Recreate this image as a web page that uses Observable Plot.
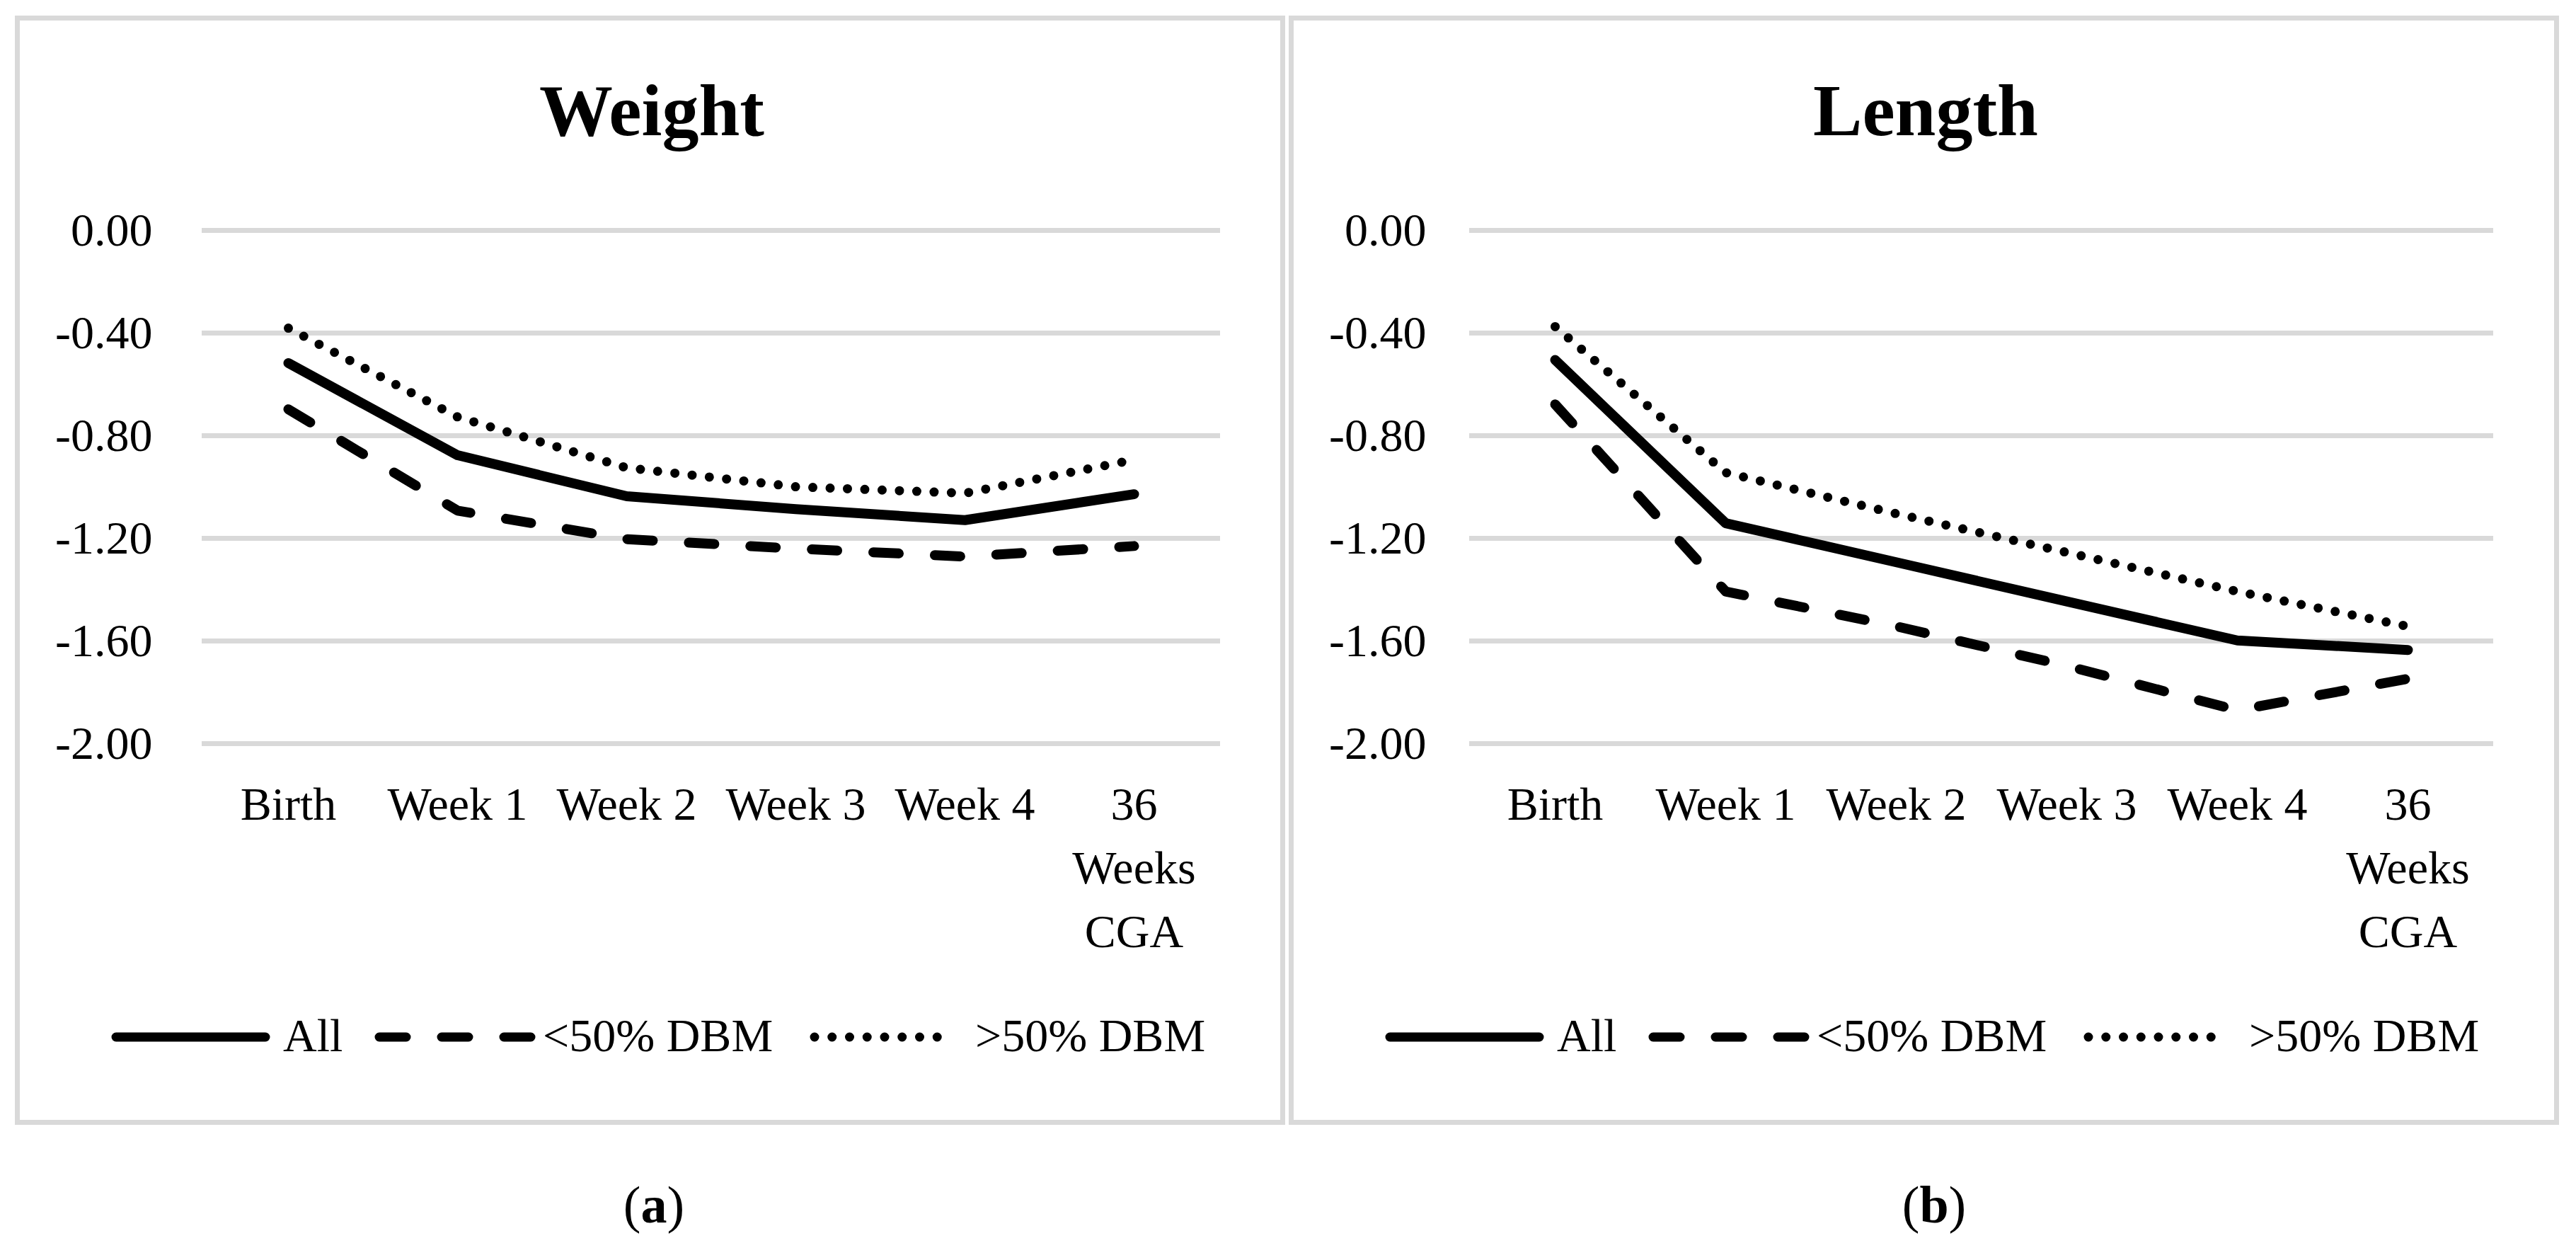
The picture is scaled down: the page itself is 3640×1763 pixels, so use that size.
<!DOCTYPE html>
<html>
<head>
<meta charset="utf-8">
<script src="https://cdn.jsdelivr.net/npm/d3@7"></script>
<script src="https://cdn.jsdelivr.net/npm/@observablehq/plot@0.6"></script>
<style>
  html, body { margin: 0; padding: 0; background: #fff; }
  body { width: 3640px; height: 1763px; position: relative; overflow: hidden; font-family: "Liberation Serif", serif; }
  .panel { position: absolute; top: 22px; width: 1795px; height: 1567px; box-sizing: border-box; border: 7px solid #d9d9d9; }
  .plotwrap { position: absolute; top: 0; }
  #overlay { position: absolute; left: 0; top: 0; }
</style>
</head>
<body>
<div class="panel" style="left:21px"></div>
<div class="panel" style="left:1821px"></div>
<div class="plotwrap" id="pa" style="left:21px"></div>
<div class="plotwrap" id="pb" style="left:1821px"></div>
<svg id="overlay" width="3640" height="1763"></svg>
<script>
// ---- data ----
const categories = ["Birth", "Week 1", "Week 2", "Week 3", "Week 4", "36 Weeks CGA"];
const tickLabels = ["Birth", "Week 1", "Week 2", "Week 3", "Week 4", "36\nWeeks\nCGA"];
const yTicks = [0, -0.4, -0.8, -1.2, -1.6, -2.0];
const seriesNames = ["All", "<50% DBM", ">50% DBM"];

const weightAll   = [-0.517, -0.876, -1.036, -1.086, -1.129, -1.028];
const weightLow   = [-0.697, -1.092, -1.203, -1.240, -1.271, -1.230];
const weightHigh  = [-0.381, -0.727, -0.925, -0.999, -1.024, -0.894];

const lengthAll   = [-0.505, -1.141, -1.293, -1.446, -1.598, -1.635];
const lengthLow   = [-0.678, -1.407, -1.543, -1.697, -1.870, -1.747];
const lengthHigh  = [-0.375, -0.944, -1.104, -1.255, -1.407, -1.543];

const dashStyles = {
  "All":       {dash: null,    width: 14},
  "<50% DBM":  {dash: "36,51", width: 14},
  ">50% DBM":  {dash: "0,24.5", width: 13}
};

function rows(values) { return categories.map((c, i) => ({cat: c, v: values[i]})); }

function panel(el, seriesValues, mLeft, mRight, yPad) {
  const marks = [
    Plot.gridY(yTicks, {stroke: "#d9d9d9", strokeOpacity: 1, strokeWidth: 7}),
    Plot.axisY(yTicks, {tickSize: 0, tickPadding: yPad, tickFormat: d => (Math.abs(d) < 1e-9 ? 0 : d).toFixed(2), fontSize: 66, fill: "#000"}),
    Plot.axisX({tickSize: 0, tickPadding: 44, tickFormat: (d, i) => tickLabels[categories.indexOf(d)], fontSize: 66, lineHeight: 1.36, fill: "#000"})
  ];
  seriesNames.forEach((name, k) => {
    const st = dashStyles[name];
    marks.push(Plot.line(rows(seriesValues[k]), {
      x: "cat", y: "v", stroke: "#000", strokeWidth: st.width,
      strokeDasharray: st.dash, strokeLinecap: "round", strokeLinejoin: "round"
    }));
  });
  const chart = Plot.plot({
    width: 1795, height: 1400,
    marginLeft: mLeft, marginRight: mRight, marginTop: 325, marginBottom: 350,
    style: {fontFamily: "Liberation Serif, serif", fontSize: "66px", color: "#000", background: "transparent"},
    x: {type: "point", domain: categories, padding: 0.5, label: null},
    y: {domain: [-2, 0], label: null},
    marks
  });
  document.getElementById(el).appendChild(chart);
}

panel("pa", [weightAll, weightLow, weightHigh], 264, 92, 70);
panel("pb", [lengthAll, lengthLow, lengthHigh], 255, 93, 61);

// ---- titles, legends, captions ----
const ov = d3.select("#overlay");
const titles = [{t: "Weight", x: 921, cap: "a"}, {t: "Length", x: 2721, cap: "b"}];
titles.forEach((p, i) => {
  ov.append("text").attr("x", p.x).attr("y", 191).attr("text-anchor", "middle")
    .attr("font-family", "Liberation Serif, serif").attr("font-weight", "bold").attr("font-size", 104)
    .text(p.t);
  const cap = ov.append("text").attr("x", p.x + (i ? 12 : 3)).attr("y", 1727).attr("text-anchor", "middle")
    .attr("font-family", "Liberation Serif, serif").attr("font-size", 74);
  cap.append("tspan").text("(");
  cap.append("tspan").attr("font-weight", "bold").text(p.cap);
  cap.append("tspan").text(")");

  const off = i * 1800;
  const items = [
    {name: "All", x1: 164, x2: 375, dash: null, tx: 400},
    {name: "<50% DBM", x1: 536, x2: 750, dash: "38,50", tx: 767},
    {name: ">50% DBM", x1: 1151, x2: 1349, dash: "0,24.75", tx: 1378}
  ];
  items.forEach(it => {
    ov.append("line").attr("x1", it.x1 + off).attr("x2", it.x2 + off).attr("y1", 1465).attr("y2", 1465)
      .attr("stroke", "#000").attr("stroke-width", 13).attr("stroke-linecap", "round")
      .attr("stroke-dasharray", it.dash);
    ov.append("text").attr("x", it.tx + off).attr("y", 1485)
      .attr("font-family", "Liberation Serif, serif").attr("font-size", 66).text(it.name);
  });
});
</script>
</body>
</html>
